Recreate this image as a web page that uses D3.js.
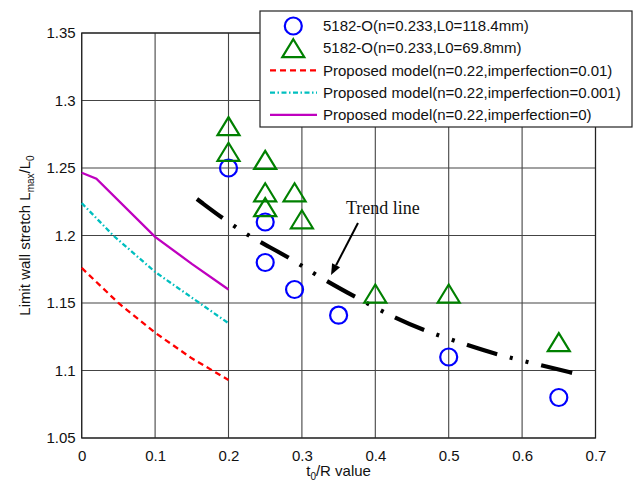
<!DOCTYPE html>
<html><head><meta charset="utf-8">
<script src="https://cdn.jsdelivr.net/npm/d3@7"></script>
<style>
html,body{margin:0;padding:0;background:#fff;}
</style></head>
<body>
<svg id="chart" width="639" height="485"></svg>
<script>
// ---- data ----
const xTicks = [0,0.1,0.2,0.3,0.4,0.5,0.6,0.7];
const yTicks = [1.05,1.1,1.15,1.2,1.25,1.3,1.35];
const yTickLabels = ["1.05","1.1","1.15","1.2","1.25","1.3","1.35"];
const xTickLabels = ["0","0.1","0.2","0.3","0.4","0.5","0.6","0.7"];

const circleX = [0.2,0.25,0.25,0.29,0.35,0.5,0.65];
const circleY = [1.25,1.21,1.18,1.16,1.141,1.11,1.08];

const triX = [0.2,0.2,0.25,0.25,0.25,0.29,0.3,0.4,0.5,0.65];
const triY = [1.281,1.262,1.256,1.232,1.221,1.232,1.212,1.157,1.157,1.121];

const redX = [0,0.05,0.1,0.15,0.2];
const redY = [1.176,1.150,1.128,1.109,1.093];
const cyanX = [0,0.043,0.1,0.15,0.2];
const cyanY = [1.224,1.200,1.173,1.154,1.135];
const purpleX = [0,0.02,0.1,0.15,0.2];
const purpleY = [1.2465,1.242,1.199,1.179,1.160];

const trendX = [0.157,0.206,0.243,0.282,0.318,0.374,0.430,0.470,0.530,0.571,0.633,0.670];
const trendY = [1.227,1.207,1.195,1.184,1.171,1.154,1.138,1.129,1.118,1.111,1.103,1.098];

const legendLabels = [
  "5182-O(n=0.233,L0=118.4mm)",
  "5182-O(n=0.233,L0=69.8mm)",
  "Proposed model(n=0.22,imperfection=0.01)",
  "Proposed model(n=0.22,imperfection=0.001)",
  "Proposed model(n=0.22,imperfection=0)"
];

// ---- layout ----
const SANS = "'Liberation Sans',Arial,sans-serif";
const SERIF = "'Liberation Serif','Times New Roman',serif";
const svg = d3.select("#chart");
const L = 81.7, R = 595.5, T = 33, B = 438;
const x = d3.scaleLinear().domain([0,0.7]).range([L,R]);
const y = d3.scaleLinear().domain([1.05,1.35]).range([B,T]);

// grid
const g = svg.append("g");
g.selectAll(".gx").data(xTicks).join("line")
  .attr("x1",d=>x(d)).attr("x2",d=>x(d)).attr("y1",T).attr("y2",B)
  .attr("stroke","#444").attr("stroke-width",1.1);
g.selectAll(".gy").data(yTicks).join("line")
  .attr("y1",d=>y(d)).attr("y2",d=>y(d)).attr("x1",L).attr("x2",R)
  .attr("stroke","#444").attr("stroke-width",1.1);

// axes via d3 axis (labels only)
const xAxis = d3.axisBottom(x).tickValues(xTicks).tickFormat((d,i)=>xTickLabels[i]).tickSize(0).tickPadding(12);
const yAxis = d3.axisLeft(y).tickValues(yTicks).tickFormat((d,i)=>yTickLabels[i]).tickSize(0).tickPadding(6);
const ax = svg.append("g").attr("transform",`translate(0,${B})`).call(xAxis);
const ay = svg.append("g").attr("transform",`translate(${L},0)`).call(yAxis);
[ax,ay].forEach(a=>{
  a.select(".domain").remove();
  a.selectAll("text").attr("font-size",15).attr("fill","#111").attr("font-family",SANS);
});

// box
svg.append("rect").attr("x",L).attr("y",T).attr("width",R-L).attr("height",B-T)
  .attr("fill","none").attr("stroke","#222").attr("stroke-width",1.2);

// model lines
const line = d3.line().x(d=>x(d[0])).y(d=>y(d[1]));
const zip = (a,b)=>a.map((v,i)=>[v,b[i]]);
svg.append("path").datum(zip(redX,redY)).attr("d",line)
  .attr("fill","none").attr("stroke","#ff0000").attr("stroke-width",2.3).attr("stroke-dasharray","6,4");
svg.append("path").datum(zip(cyanX,cyanY)).attr("d",line)
  .attr("fill","none").attr("stroke","#00bfbf").attr("stroke-width",2.3).attr("stroke-dasharray","5,2.5,1.5,2.5");
svg.append("path").datum(zip(purpleX,purpleY)).attr("d",line)
  .attr("fill","none").attr("stroke","#bf00bf").attr("stroke-width",2.3);

// trend line
const tline = d3.line().x(d=>x(d[0])).y(d=>y(d[1])).curve(d3.curveBasis);
svg.append("path").datum(zip(trendX,trendY)).attr("d",tline)
  .attr("fill","none").attr("stroke","#000").attr("stroke-width",4.2)
  .attr("stroke-dasharray","32,13,3,13,3,13");

// markers
const triPath = "M0,-9L11,9L-11,9Z";
svg.append("g").selectAll("circle").data(zip(circleX,circleY)).join("circle")
  .attr("cx",d=>x(d[0])).attr("cy",d=>y(d[1])).attr("r",8.5)
  .attr("fill","none").attr("stroke","#0000ff").attr("stroke-width",2.2);
svg.append("g").selectAll("path").data(zip(triX,triY)).join("path")
  .attr("d",triPath).attr("transform",d=>`translate(${x(d[0])},${y(d[1])})`)
  .attr("fill","none").attr("stroke","#008000").attr("stroke-width",2.2);

// annotation
const arrowFrom = [0.3764,1.2093], arrowTo = [0.3397,1.1707];
const ax0 = x(arrowFrom[0]), ay0 = y(arrowFrom[1]), ax1 = x(arrowTo[0]), ay1 = y(arrowTo[1]);
const ang = Math.atan2(ay1-ay0, ax1-ax0);
const hl = 11, hw = 4.5;
const bx = ax1 - hl*Math.cos(ang), by = ay1 - hl*Math.sin(ang);
svg.append("line").attr("x1",ax0).attr("y1",ay0).attr("x2",bx).attr("y2",by)
  .attr("stroke","#000").attr("stroke-width",2);
svg.append("path").attr("d",`M${ax1},${ay1}L${bx+hw*Math.sin(ang)},${by-hw*Math.cos(ang)}L${bx-hw*Math.sin(ang)},${by+hw*Math.cos(ang)}Z`)
  .attr("fill","#000");
svg.append("text").attr("x",x(0.36)).attr("y",y(1.2159))
  .attr("font-family",SERIF).attr("font-size",18)
  .attr("fill","#111").text("Trend line");

// axis labels
const xl = svg.append("text").attr("x",x(0.35)).attr("y",476).attr("text-anchor","middle")
  .attr("font-family",SANS).attr("font-size",15).attr("fill","#111");
xl.append("tspan").text("t");
xl.append("tspan").attr("font-size",10).attr("dy",4).text("0");
xl.append("tspan").attr("dy",-4).text("/R value");

const yl = svg.append("text").attr("transform",`translate(29.5,${(T+B)/2}) rotate(-90)`)
  .attr("font-family",SANS).attr("text-anchor","middle").attr("font-size",15).attr("fill","#111");
yl.append("tspan").text("Limit wall stretch L");
yl.append("tspan").attr("font-size",10).attr("dy",4).text("max");
yl.append("tspan").attr("dy",-4).text("/L");
yl.append("tspan").attr("font-size",10).attr("dy",4).text("0");

// legend
const lg = svg.append("g");
lg.append("rect").attr("x",260).attr("y",11).attr("width",372).attr("height",116)
  .attr("fill","#fff").attr("stroke","#222").attr("stroke-width",1.2);
const rowY = i => 26 + 22.2*i;
lg.selectAll("text").data(legendLabels).join("text")
  .attr("x",323).attr("y",(d,i)=>rowY(i)).attr("dy","0.35em")
  .attr("font-family",SANS).attr("font-size",15).attr("fill","#111").text(d=>d);
lg.append("circle").attr("cx",293.3).attr("cy",rowY(0)).attr("r",8.5)
  .attr("fill","none").attr("stroke","#0000ff").attr("stroke-width",2.2);
lg.append("path").attr("d",triPath).attr("transform",`translate(293.3,${rowY(1)})`)
  .attr("fill","none").attr("stroke","#008000").attr("stroke-width",2.2);
const legLines = [
  {c:"#ff0000",da:"6,4"},
  {c:"#00bfbf",da:"5,2.5,1.5,2.5"},
  {c:"#bf00bf",da:null}
];
legLines.forEach((s,k)=>{
  lg.append("line").attr("x1",270).attr("x2",317).attr("y1",rowY(k+2)).attr("y2",rowY(k+2))
    .attr("stroke",s.c).attr("stroke-width",2.3).attr("stroke-dasharray",s.da);
});
</script>
</body></html>
